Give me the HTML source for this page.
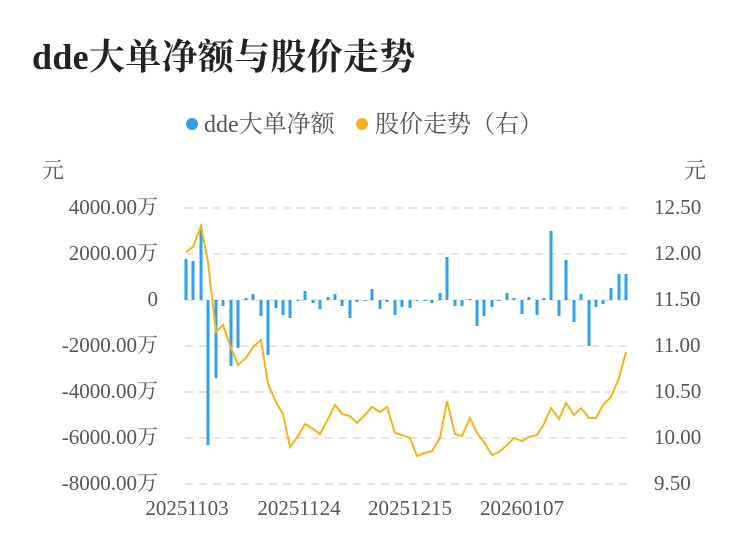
<!DOCTYPE html><html><head><meta charset="utf-8"><style>body{margin:0;background:#fff}svg{display:block}text{font-family:"Liberation Serif","Noto Serif CJK SC",serif}</style></head><body>
<svg width="750" height="558" xmlns="http://www.w3.org/2000/svg">
<text x="32" y="69" font-size="36" font-weight="bold" fill="#222" letter-spacing="0.3">dde大单净额与股价走势</text>
<circle cx="192" cy="124" r="6" fill="#2f9ff0"/><text x="204" y="132" font-size="24" fill="#555">dde大单净额</text>
<circle cx="362" cy="124" r="6" fill="#f7b217"/><text x="375" y="132" font-size="24" fill="#555">股价走势（右）</text>
<text x="42" y="178" font-size="22" fill="#555">元</text><text x="684" y="178" font-size="22" fill="#555">元</text>
<g stroke="#e6e6e6" stroke-width="2" stroke-dasharray="8,6">
<line x1="185" x2="628" y1="208" y2="208"/><line x1="185" x2="628" y1="254" y2="254"/><line x1="185" x2="628" y1="300" y2="300"/><line x1="185" x2="628" y1="346" y2="346"/><line x1="185" x2="628" y1="392" y2="392"/><line x1="185" x2="628" y1="438" y2="438"/><line x1="185" x2="628" y1="484" y2="484"/></g>
<g font-size="21" fill="#555" text-anchor="end">
<text x="158" y="214">4000.00万</text><text x="158" y="260">2000.00万</text><text x="158" y="306">0</text><text x="158" y="352">-2000.00万</text><text x="158" y="398">-4000.00万</text><text x="158" y="444">-6000.00万</text><text x="158" y="490">-8000.00万</text></g>
<g font-size="21" fill="#555" text-anchor="start">
<text x="654" y="214">12.50</text><text x="654" y="260">12.00</text><text x="654" y="306">11.50</text><text x="654" y="352">11.00</text><text x="654" y="398">10.50</text><text x="654" y="444">10.00</text><text x="654" y="490">9.50</text></g>
<g font-size="21" fill="#555" text-anchor="middle">
<text x="187" y="515">20251103</text><text x="299" y="515">20251124</text><text x="410" y="515">20251215</text><text x="522" y="515">20260107</text></g>
<path fill="none" stroke="#2f9ff0" stroke-width="3" d="M186 300V259M193 300V261M201 300V228M208 300V445M216 300V378M223 300V306M231 300V366M238 300V348M246 300V298M253 300V294M261 300V316M268 300V355M276 300V308M283 300V315M290 300V318M298 300V301M305 300V291M313 300V303M320 300V309M328 300V297M335 300V294M342 300V306M350 300V318M357 300V302M365 300V301M372 300V289M380 300V309M387 300V302M395 300V315M402 300V307M410 300V308M417 300V301M425 300V301M432 300V303M440 300V293M447 300V257M455 300V306M462 300V306M470 300V299M477 300V326M484 300V316M492 300V307M499 300V301M507 300V293M514 300V298M522 300V314M529 300V297M537 300V315M544 300V298M551 300V231M559 300V316M566 300V260M574 300V322M581 300V294M589 300V346M596 300V307M603 300V304M611 300V288M619 300V274M626 300V274"/>
<polyline fill="none" stroke="#f7b217" stroke-width="2" points="186,252 193,247 201,226 208,262 216,332 223,325 231,348 238,365 246,358 253,347 261,340 268,384 276,402 283,414 290,447 298,436 305,424 313,429 320,434 328,419 335,405 342,414 350,416 357,423 365,415 372,407 380,412 387,407 395,433 402,435 410,438 417,456 425,453 432,451 440,438 447,401 455,434 462,436 470,418 477,433 484,442 492,455 499,452 507,445 514,438 522,441 529,437 537,435 544,424 551,408 559,419 566,403 574,415 581,408 589,418 596,418 603,405 611,397 619,378 626,352"/>
</svg></body></html>
